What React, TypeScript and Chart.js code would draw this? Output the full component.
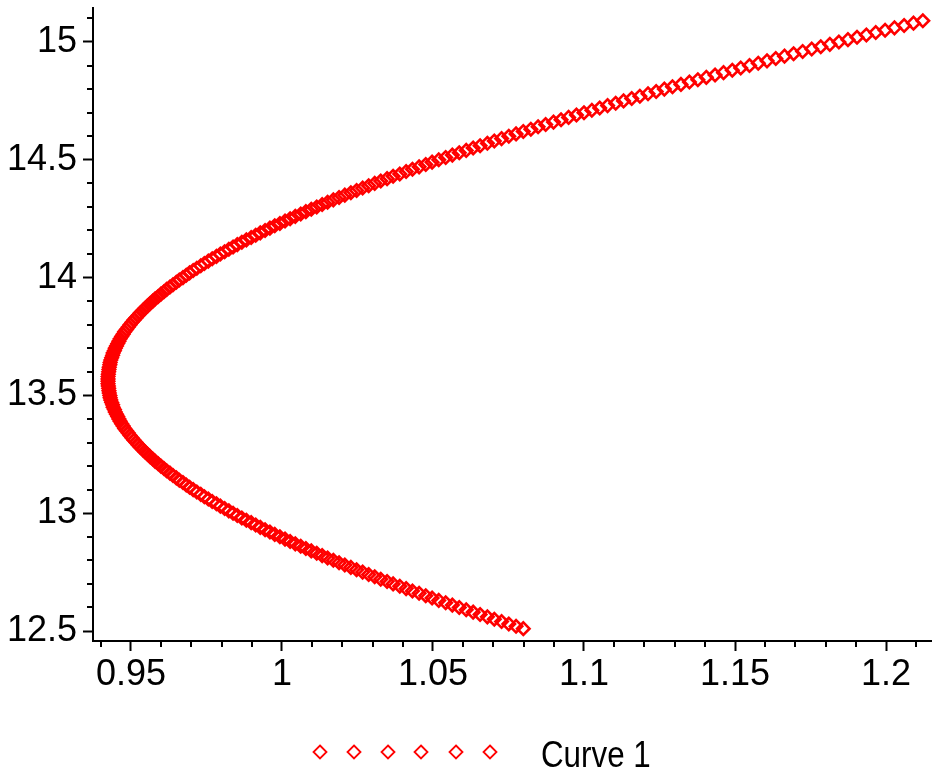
import React, { useEffect, useRef } from 'react';
import { Chart, registerables } from 'chart.js';

Chart.register(...registerables);

// ---- data ----
// lower branch (y from 12.51 to 13.56)
const lowerY = [
  12.51, 12.52, 12.53, 12.54, 12.55, 12.56, 12.57, 12.58, 12.59, 12.6,
  12.61, 12.62, 12.63, 12.64, 12.65, 12.66, 12.67, 12.68, 12.69, 12.7,
  12.71, 12.72, 12.73, 12.74, 12.75, 12.76, 12.77, 12.78, 12.79, 12.8,
  12.81, 12.82, 12.83, 12.84, 12.85, 12.86, 12.87, 12.88, 12.89, 12.9,
  12.91, 12.92, 12.93, 12.94, 12.95, 12.96, 12.97, 12.98, 12.99, 13.0,
  13.01, 13.02, 13.03, 13.04, 13.05, 13.06, 13.07, 13.08, 13.09, 13.1,
  13.11, 13.12, 13.13, 13.14, 13.15, 13.16, 13.17, 13.18, 13.19, 13.2,
  13.21, 13.22, 13.23, 13.24, 13.25, 13.26, 13.27, 13.28, 13.29, 13.3,
  13.31, 13.32, 13.33, 13.34, 13.35, 13.36, 13.37, 13.38, 13.39, 13.4,
  13.41, 13.42, 13.43, 13.44, 13.45, 13.46, 13.47, 13.48, 13.49, 13.5,
  13.51, 13.52, 13.53, 13.54, 13.55, 13.56,
];
const lowerX = [
  1.0799, 1.0775, 1.0751, 1.0727, 1.0703, 1.068,
  1.0656, 1.0633, 1.061, 1.0587, 1.0564, 1.0542, 1.0519, 1.0497, 1.0476, 1.0454,
  1.0432, 1.0411, 1.039, 1.0368, 1.0348, 1.0327, 1.0307, 1.0287, 1.0267, 1.0247,
  1.0228, 1.0208, 1.0189, 1.017, 1.0151, 1.0133, 1.0115, 1.0097, 1.0079, 1.0062,
  1.0044, 1.0027, 1.001, 0.9993, 0.9976, 0.996, 0.9944, 0.9928, 0.9913, 0.9898,
  0.9882, 0.9867, 0.9852, 0.9838, 0.9824, 0.981, 0.9796, 0.9783, 0.9769, 0.9756,
  0.9743, 0.9731, 0.9718, 0.9706, 0.9694, 0.9683, 0.9672, 0.966, 0.965, 0.9639,
  0.9629, 0.9618, 0.9609, 0.9599, 0.959, 0.958, 0.9572, 0.9563, 0.9555, 0.9547,
  0.9539, 0.9531, 0.9524, 0.9517, 0.951, 0.9503, 0.9497, 0.9491, 0.9485, 0.9479,
  0.9474, 0.9469, 0.9464, 0.946, 0.9456, 0.9452, 0.9448, 0.9445, 0.9441, 0.9439,
  0.9436, 0.9433, 0.9431, 0.943, 0.9428, 0.9427, 0.9426, 0.9425, 0.9424, 0.9424,
];
// upper branch (y from 13.57 to 15.09)
const upperY = [
  13.57, 13.58, 13.59, 13.6, 13.61, 13.62, 13.63, 13.64, 13.65, 13.66,
  13.67, 13.68, 13.69, 13.7, 13.71, 13.72, 13.73, 13.74, 13.75, 13.76,
  13.77, 13.78, 13.79, 13.8, 13.81, 13.82, 13.83, 13.84, 13.85, 13.86,
  13.87, 13.88, 13.89, 13.9, 13.91, 13.92, 13.93, 13.94, 13.95, 13.96,
  13.97, 13.98, 13.99, 14.0, 14.01, 14.02, 14.03, 14.04, 14.05, 14.06,
  14.07, 14.08, 14.09, 14.1, 14.11, 14.12, 14.13, 14.14, 14.15, 14.16,
  14.17, 14.18, 14.19, 14.2, 14.21, 14.22, 14.23, 14.24, 14.25, 14.26,
  14.27, 14.28, 14.29, 14.3, 14.31, 14.32, 14.33, 14.34, 14.35, 14.36,
  14.37, 14.38, 14.39, 14.4, 14.41, 14.42, 14.43, 14.44, 14.45, 14.46,
  14.47, 14.48, 14.49, 14.5, 14.51, 14.52, 14.53, 14.54, 14.55, 14.56,
  14.57, 14.58, 14.59, 14.6, 14.61, 14.62, 14.63, 14.64, 14.65, 14.66,
  14.67, 14.68, 14.69, 14.7, 14.71, 14.72, 14.73, 14.74, 14.75, 14.76,
  14.77, 14.78, 14.79, 14.8, 14.81, 14.82, 14.83, 14.84, 14.85, 14.86,
  14.87, 14.88, 14.89, 14.9, 14.91, 14.92, 14.93, 14.94, 14.95, 14.96,
  14.97, 14.98, 14.99, 15.0, 15.01, 15.02, 15.03, 15.04, 15.05, 15.06,
  15.07, 15.08, 15.09,
];
const upperX = [
  0.9424, 0.9424, 0.9425, 0.9426, 0.9427, 0.9428, 0.943, 0.9431, 0.9433, 0.9436,
  0.9439, 0.9441, 0.9445, 0.9448, 0.9452, 0.9456, 0.946, 0.9464, 0.9469, 0.9474,
  0.9479, 0.9485, 0.9491, 0.9497, 0.9503, 0.951, 0.9517, 0.9524, 0.9531, 0.9539,
  0.9547, 0.9555, 0.9563, 0.9572, 0.958, 0.959, 0.9599, 0.9609, 0.9618, 0.9629,
  0.9639, 0.965, 0.966, 0.9672, 0.9683, 0.9694, 0.9706, 0.9718, 0.9731, 0.9743,
  0.9756, 0.9769, 0.9783, 0.9796, 0.981, 0.9824, 0.9838, 0.9852, 0.9867, 0.9882,
  0.9898, 0.9913, 0.9928, 0.9944, 0.996, 0.9976, 0.9993, 1.001, 1.0027, 1.0044,
  1.0062, 1.0079, 1.0097, 1.0115, 1.0133, 1.0151, 1.017, 1.0189, 1.0208, 1.0228,
  1.0247, 1.0267, 1.0287, 1.0307, 1.0327, 1.0348, 1.0368, 1.039, 1.0411, 1.0432,
  1.0454, 1.0476, 1.0497, 1.0519, 1.0542, 1.0564, 1.0587, 1.061, 1.0633, 1.0656,
  1.068, 1.0703, 1.0727, 1.0751, 1.0775, 1.0799, 1.0824, 1.0848, 1.0873, 1.0899,
  1.0924, 1.0949, 1.0975, 1.1, 1.1026, 1.1052, 1.1078, 1.1105, 1.1131, 1.1158,
  1.1185, 1.1212, 1.1239, 1.1266, 1.1293, 1.1321, 1.1349, 1.1377, 1.1405, 1.1434,
  1.1462, 1.1491, 1.1519, 1.1548, 1.1577, 1.1606, 1.1635, 1.1664, 1.1694, 1.1724,
  1.1754, 1.1784, 1.1814, 1.1844, 1.1874, 1.1904, 1.1935, 1.1966, 1.1997, 1.2028,
  1.206, 1.2091, 1.2122,
];

const seriesLabel = 'Curve 1';

// axis ranges and ticks
const xRange = [0.93742, 1.21523];
const yRange = [12.4576, 15.1443];
const xMajorTicks = [0.95, 1.0, 1.05, 1.1, 1.15, 1.2];
const xTickLabels = ['0.95', '1', '1.05', '1.1', '1.15', '1.2'];
const xMinorTicks = [
  0.94, 0.96, 0.97, 0.98, 0.99, 1.01, 1.02, 1.03, 1.04, 1.06, 1.07, 1.08, 1.09,
  1.11, 1.12, 1.13, 1.14, 1.16, 1.17, 1.18, 1.19, 1.21,
];
const yMajorTicks = [12.5, 13.0, 13.5, 14.0, 14.5, 15.0];
const yTickLabels = ['12.5', '13', '13.5', '14', '14.5', '15'];
const yMinorTicks = [
  12.6, 12.7, 12.8, 12.9, 13.1, 13.2, 13.3, 13.4, 13.6, 13.7, 13.8, 13.9,
  14.1, 14.2, 14.3, 14.4, 14.6, 14.7, 14.8, 14.9, 15.1,
];

// ---- styles ----
const W = 932;
const H = 776;
const RED = '#ff0000';
const FONT_FAMILY = '"Liberation Sans", Arial, sans-serif';
const FONT_SIZE = 36;
const MARKER_RADIUS = 6.2;
const MARKER_BORDER = 2.6;
const LEGEND_RADIUS = 6.5;
const LEGEND_BORDER = 1.8;

const minorTicksPlugin = {
  id: 'minorTicks',
  afterDraw(chart: any) {
    const { ctx } = chart;
    const xs = chart.scales.x;
    const ys = chart.scales.y;
    ctx.save();
    ctx.strokeStyle = '#000';
    ctx.lineWidth = 2;
    ctx.beginPath();
    for (const v of xMinorTicks) {
      const px = Math.round(xs.getPixelForValue(v));
      ctx.moveTo(px, xs.top);
      ctx.lineTo(px, xs.top + 6);
    }
    for (const v of yMinorTicks) {
      const py = Math.round(ys.getPixelForValue(v));
      ctx.moveTo(ys.right, py);
      ctx.lineTo(ys.right - 6, py);
    }
    ctx.stroke();
    ctx.restore();
  },
};

const legendPlugin = {
  id: 'maplelegend',
  afterDraw(chart: any) {
    const { ctx } = chart;
    const cy = 752;
    const markerXs = [320, 354, 388, 421, 456, 490];
    ctx.save();
    ctx.strokeStyle = RED;
    ctx.lineWidth = LEGEND_BORDER;
    for (const mx of markerXs) {
      ctx.beginPath();
      ctx.moveTo(mx, cy - LEGEND_RADIUS);
      ctx.lineTo(mx + LEGEND_RADIUS, cy);
      ctx.lineTo(mx, cy + LEGEND_RADIUS);
      ctx.lineTo(mx - LEGEND_RADIUS, cy);
      ctx.closePath();
      ctx.stroke();
    }
    ctx.fillStyle = '#000';
    ctx.font = `${FONT_SIZE}px ${FONT_FAMILY}`;
    ctx.textAlign = 'left';
    ctx.textBaseline = 'middle';
    ctx.translate(541, 757);
    ctx.scale(0.87, 1);
    ctx.fillText(seriesLabel, 0, 0);
    ctx.restore();
  },
};

export default function App() {
  const ref = useRef<HTMLCanvasElement>(null);

  useEffect(() => {
    const canvas = ref.current;
    if (!canvas) return;
    const points = [
      ...lowerY.map((y, i) => ({ x: lowerX[i], y })),
      ...upperY.map((y, i) => ({ x: upperX[i], y })),
    ];
    const tickFont = { family: FONT_FAMILY, size: FONT_SIZE };
    const chart = new Chart(canvas, {
      type: 'scatter',
      data: {
        datasets: [
          {
            label: seriesLabel,
            data: points,
            showLine: false,
            clip: false,
            pointStyle: 'rectRot',
            pointRadius: MARKER_RADIUS,
            pointHoverRadius: MARKER_RADIUS,
            pointBorderWidth: MARKER_BORDER,
            pointBorderColor: RED,
            pointBackgroundColor: 'rgba(0,0,0,0)',
          },
        ],
      },
      options: {
        animation: false,
        responsive: false,
        maintainAspectRatio: false,
        layout: { autoPadding: false, padding: { top: 8, right: 0, left: 0, bottom: 0 } },
        plugins: {
          legend: { display: false },
          tooltip: { enabled: false },
        },
        scales: {
          x: {
            type: 'linear',
            min: xRange[0],
            max: xRange[1],
            afterBuildTicks: (scale: any) => {
              scale.ticks = xMajorTicks.map((value) => ({ value }));
            },
            afterFit: (scale: any) => {
              scale.height = 135;
              scale.paddingLeft = 0;
              scale.paddingRight = 0;
            },
            grid: {
              display: true,
              drawOnChartArea: false,
              drawTicks: true,
              tickLength: 10,
              tickWidth: 2,
              tickColor: '#000',
              color: '#000',
            },
            border: { display: true, color: '#000', width: 2 },
            ticks: {
              autoSkip: false,
              maxRotation: 0,
              padding: 2,
              color: '#000',
              font: tickFont,
              callback: (_v: any, i: number) => xTickLabels[i],
            },
          },
          y: {
            type: 'linear',
            min: yRange[0],
            max: yRange[1],
            afterBuildTicks: (scale: any) => {
              scale.ticks = yMajorTicks.map((value) => ({ value }));
            },
            afterFit: (scale: any) => {
              scale.width = 93;
              scale.paddingTop = 0;
              scale.paddingBottom = 0;
            },
            grid: {
              display: true,
              drawOnChartArea: false,
              drawTicks: true,
              tickLength: 10,
              tickWidth: 2,
              tickColor: '#000',
              color: '#000',
            },
            border: { display: true, color: '#000', width: 2 },
            ticks: {
              autoSkip: false,
              padding: 6,
              color: '#000',
              font: tickFont,
              callback: (_v: any, i: number) => yTickLabels[i],
            },
          },
        },
      },
      plugins: [minorTicksPlugin, legendPlugin],
    } as any);
    return () => chart.destroy();
  }, []);

  return (
    <div style={{ position: 'fixed', left: 0, top: 0, width: W, height: H, background: '#fff' }}>
      <canvas ref={ref} width={W} height={H} style={{ display: 'block', width: W, height: H }} />
    </div>
  );
}
